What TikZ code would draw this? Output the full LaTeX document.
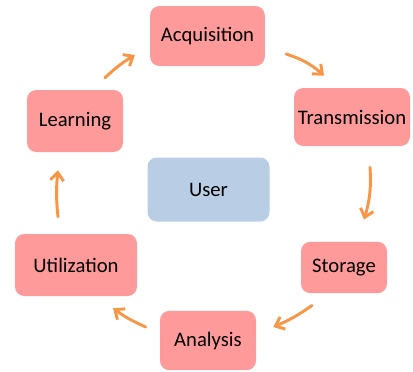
\documentclass[tikz,border=0pt]{standalone}
\usepackage{fontspec}
\setmainfont{Carlito}
\usetikzlibrary{arrows.meta}

\definecolor{stagepink}{HTML}{FF9A9A}
\definecolor{userblue}{HTML}{B9CDE5}
\definecolor{flowor}{HTML}{F79646}

\tikzset{
    stage/.style={fill=stagepink, rounded corners=7pt, inner sep=0pt,
        font=\fontsize{15.5}{18}\selectfont},
    flow/.style={draw=flowor, line width=2.2pt, line cap=round,
        -{Straight Barb[length=6pt,width=10pt]}}
}

\begin{document}
\begin{tikzpicture}[x=0.75pt, y=-0.75pt]
    \useasboundingbox (0, 0) rectangle (413, 371);

    % The stages round the cycle
    \node[stage, minimum width=86pt, minimum height=45pt] (acq) at (207.5, 36) {Acquisition};
    \node[stage, minimum width=87pt, minimum height=43.5pt] (trans) at (352, 117) {Transmission};
    \node[stage, minimum width=64.5pt, minimum height=38.5pt] (stor) at (344, 267.5) {Storage};
    \node[stage, minimum width=72pt, minimum height=44.5pt] (anal) at (208, 340.5) {Analysis};
    \node[stage, minimum width=91.5pt, minimum height=46.5pt] (util) at (76, 265) {Utilization};
    \node[stage, minimum width=72pt, minimum height=46.5pt] (learn) at (75, 121) {Learning};

    % The user in the middle
    \node[stage, fill=userblue, minimum width=91.5pt, minimum height=48pt] (user) at (208.5, 189.5) {User};

    % Arrows from one stage to the next
    \draw[flow] ([shift={(30,-12)}]learn.north) to[bend left=6] ([shift={(-15,19)}]acq.west);
    \draw[flow] ([shift={(21,18)}]acq.east) to[bend left=12] ([shift={(-28,-12)}]trans.north);
    \draw[flow] ([shift={(18,21)}]trans.south) to[bend left=10] ([shift={(20,-22)}]stor.north);
    \draw[flow] ([shift={(-32,12)}]stor.south) to[bend left=6] ([shift={(17,-13.5)}]anal.east);
    \draw[flow] ([shift={(-14,-13.5)}]anal.west) to[bend left=6] ([shift={(37,12)}]util.south);
    \draw[flow] ([shift={(-18,-17)}]util.north) to[bend left=6] ([shift={(-17,18)}]learn.south);
\end{tikzpicture}
\end{document}
